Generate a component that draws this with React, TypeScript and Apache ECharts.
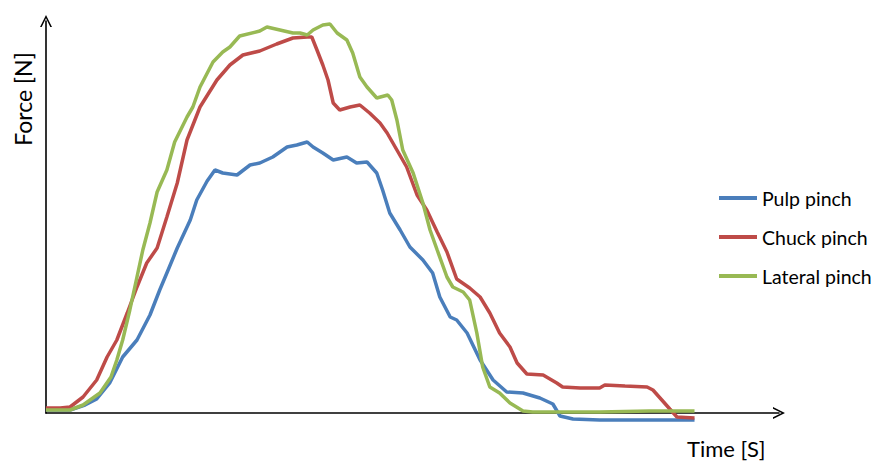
import React, { useEffect, useRef } from "react";
import * as echarts from "echarts";

// Time [s] and Force [N] readings for each grip
const pulpTime = [0, 0.37, 0.6, 0.78, 0.98, 1.18, 1.4, 1.6, 1.75, 1.86, 2.02, 2.22, 2.32, 2.48, 2.6, 2.72, 2.94, 3.14, 3.29, 3.49, 3.71, 3.86, 4.02, 4.11, 4.26, 4.42, 4.63, 4.78, 4.94, 5.09, 5.18, 5.29, 5.45, 5.6, 5.8, 5.95, 6.06, 6.22, 6.32, 6.48, 6.68, 6.88, 7.09, 7.34, 7.6, 7.8, 7.91, 8.11, 8.52, 9.29, 9.98];
const pulpForce = [0.3, 0.3, 0.8, 1.4, 3.0, 5.6, 7.3, 9.8, 12.3, 14.0, 16.5, 19.3, 21.3, 23.2, 24.3, 24.0, 23.8, 24.8, 25.0, 25.6, 26.6, 26.8, 27.1, 26.6, 26.0, 25.3, 25.6, 25.0, 25.1, 24.0, 22.3, 20.0, 18.3, 16.6, 15.3, 14.0, 11.6, 9.6, 9.3, 8.0, 5.3, 3.3, 2.1, 2.0, 1.5, 0.9, -0.3, -0.6, -0.7, -0.7, -0.7];

const chuckTime = [0, 0.22, 0.37, 0.57, 0.78, 0.94, 1.09, 1.25, 1.4, 1.55, 1.71, 1.86, 2.02, 2.17, 2.37, 2.63, 2.83, 3.03, 3.29, 3.55, 3.8, 4.02, 4.09, 4.17, 4.26, 4.34, 4.42, 4.52, 4.68, 4.83, 4.98, 5.14, 5.25, 5.4, 5.55, 5.71, 5.86, 6.02, 6.17, 6.32, 6.52, 6.68, 6.83, 6.98, 7.14, 7.25, 7.4, 7.65, 7.86, 7.95, 8.22, 8.52, 8.6, 8.91, 9.25, 9.34, 9.6, 9.71, 9.98];
const chuckForce = [0.5, 0.5, 0.6, 1.6, 3.3, 5.6, 7.3, 10.0, 12.6, 15.0, 16.5, 19.6, 23.0, 27.3, 30.6, 33.3, 34.8, 35.8, 36.2, 36.9, 37.5, 37.6, 37.6, 36.3, 34.8, 33.3, 31.0, 30.3, 30.6, 30.8, 30.0, 29.0, 28.0, 26.3, 24.6, 21.8, 20.3, 18.1, 16.1, 13.4, 12.5, 11.6, 10.0, 8.0, 6.6, 5.0, 3.9, 3.8, 3.0, 2.6, 2.5, 2.5, 2.8, 2.7, 2.6, 2.3, 0.4, -0.4, -0.5];

const lateralTime = [0, 0.18, 0.37, 0.57, 0.83, 1.0, 1.09, 1.18, 1.29, 1.4, 1.49, 1.6, 1.71, 1.86, 1.98, 2.17, 2.26, 2.37, 2.57, 2.72, 2.83, 2.98, 3.29, 3.4, 3.6, 3.8, 3.91, 4.02, 4.11, 4.26, 4.37, 4.48, 4.63, 4.72, 4.83, 4.94, 5.09, 5.26, 5.32, 5.4, 5.49, 5.65, 5.8, 5.91, 6.02, 6.17, 6.26, 6.42, 6.52, 6.63, 6.72, 6.83, 6.98, 7.14, 7.34, 7.49, 7.91, 8.52, 9.29, 9.98];
const lateralForce = [0.3, 0.3, 0.3, 0.8, 2.0, 3.6, 5.3, 7.3, 10.3, 13.6, 16.3, 19.0, 22.1, 24.3, 27.1, 29.6, 30.6, 32.6, 35.1, 36.1, 36.6, 37.7, 38.2, 38.6, 38.3, 38.0, 38.0, 37.8, 38.3, 38.8, 38.9, 38.0, 37.3, 36.0, 33.6, 32.6, 31.5, 31.8, 31.3, 29.3, 26.3, 24.0, 21.0, 18.3, 16.3, 13.6, 12.6, 12.1, 11.3, 8.0, 4.6, 2.6, 2.0, 1.0, 0.2, 0.1, 0.1, 0.1, 0.2, 0.2];

const seriesNames = ["Pulp pinch", "Chuck pinch", "Lateral pinch"];
const seriesColors = ["#4A7EBB", "#BE4B48", "#98B954"];
const axisTitles = { x: "Time [S]", y: "Force [N]" };

const zip = (t: number[], f: number[]) => t.map((v, i) => [v, f[i]]);

const FONT = "Lato, 'Open Sans', sans-serif";
const chevron = "path://M0,10 L5,0 L10,10 L8.6,10 L5,2.8 L1.4,10 Z";

export default function App() {
  const ref = useRef<HTMLDivElement>(null);
  useEffect(() => {
    if (!ref.current) return;
    const chart = echarts.init(ref.current, undefined, { renderer: "svg" });
    const datasets = [zip(pulpTime, pulpForce), zip(chuckTime, chuckForce), zip(lateralTime, lateralForce)];
    chart.setOption({
      animation: false,
      backgroundColor: "#ffffff",
      grid: { left: 46, top: 21, right: 97, bottom: 48 },
      xAxis: {
        type: "value",
        min: 0,
        max: 11.28,
        axisLine: {
          show: true,
          symbol: ["none", chevron],
          symbolSize: [14, 12],
          lineStyle: { color: "#000", width: 1.6 },
        },
        axisTick: { show: false },
        axisLabel: { show: false },
        splitLine: { show: false },
      },
      yAxis: {
        type: "value",
        min: 0,
        max: 39.2,
        axisLine: {
          show: true,
          symbol: ["none", chevron],
          symbolSize: [14, 12],
          lineStyle: { color: "#000", width: 1.6 },
        },
        axisTick: { show: false },
        axisLabel: { show: false },
        splitLine: { show: false },
      },
      legend: {
        orient: "vertical",
        left: 714,
        top: 183,
        icon: "rect",
        itemWidth: 38,
        itemHeight: 4,
        itemGap: 19,
        textStyle: { fontFamily: FONT, fontSize: 19.5, color: "#000" },
        data: seriesNames,
      },
      graphic: [
        {
          type: "text",
          x: 23,
          y: 99,
          rotation: Math.PI / 2,
          style: { text: axisTitles.y, font: `23px ${FONT}`, fill: "#000", align: "center", verticalAlign: "middle" },
        },
        {
          type: "text",
          x: 687,
          y: 448,
          style: { text: axisTitles.x, font: `22px ${FONT}`, fill: "#000", align: "left", verticalAlign: "middle" },
        },
      ],
      series: datasets.map((d, i) => ({
        name: seriesNames[i],
        type: "line",
        data: d,
        symbol: "none",
        showSymbol: false,
        clip: false,
        color: seriesColors[i],
        lineStyle: { color: seriesColors[i], width: 3.5 },
        z: i === 2 ? 3 : i === 1 ? 2 : 1,
      })),
    });
    return () => chart.dispose();
  }, []);
  return <div ref={ref} style={{ position: "fixed", left: 0, top: 0, width: 876, height: 461 }} />;
}
